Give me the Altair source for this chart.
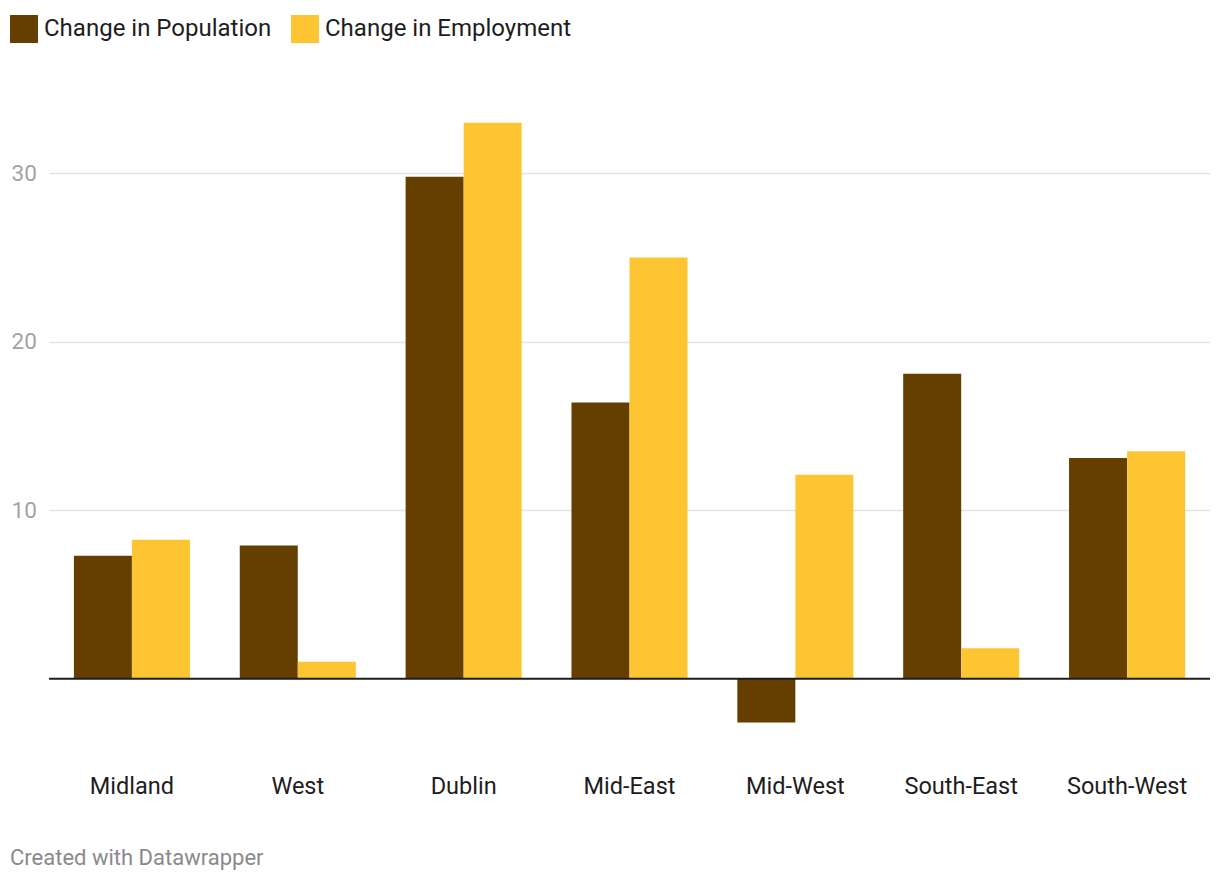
import altair as alt
import pandas as pd

regions = ["Midland", "West", "Dublin", "Mid-East", "Mid-West", "South-East", "South-West"]
population = [7.3, 7.9, 29.8, 16.4, -2.6, 18.1, 13.1]
employment = [8.25, 1.0, 33.0, 25.0, 12.1, 1.8, 13.5]
series = ["Change in Population", "Change in Employment"]
colors = ["#653f00", "#fec533"]
y_ticks = [10, 20, 30]

rows = []
for r, p, e in zip(regions, population, employment):
    rows.append({"region": r, "series": series[0], "value": p})
    rows.append({"region": r, "series": series[1], "value": e})
df = pd.DataFrame(rows)

FONT = "Roboto"
W, H = 1161, 640

bars = alt.Chart(df).mark_bar(size=58).encode(
    x=alt.X("region:N", sort=regions,
            scale=alt.Scale(paddingInner=0.3, paddingOuter=0.15),
            axis=alt.Axis(title=None, labelAngle=0, ticks=False, domain=False,
                          labelFontSize=23.5, labelColor="#1d1d1d", labelFont=FONT,
                          labelPadding=28.5, grid=False)),
    xOffset=alt.XOffset("series:N", sort=series, scale=alt.Scale(paddingInner=0, paddingOuter=0)),
    y=alt.Y("value:Q", scale=alt.Scale(domain=[-4, 34], nice=False, zero=False),
            axis=alt.Axis(title=None, values=y_ticks, ticks=False, domain=False,
                          labelAlign="left", labelPadding=38, labelFontSize=22.5,
                          labelColor="#a3a3a3", labelFont=FONT,
                          gridColor="#e3e3e3", gridWidth=1.5)),
    color=alt.Color("series:N", sort=series,
                    scale=alt.Scale(domain=series, range=colors),
                    legend=alt.Legend(title=None, orient="none", direction="horizontal",
                                      legendX=-39, legendY=-91,
                                      symbolType="M-1,-1H1V1H-1Z", symbolSize=784,
                                      symbolStrokeWidth=0, symbolOpacity=1,
                                      labelFontSize=24, labelFont=FONT, labelColor="#1d1d1d",
                                      labelLimit=0,
                                      labelOffset=6, columnPadding=19, padding=0)),
)

zero = alt.Chart(pd.DataFrame({"v": [0]})).mark_rule(color="#1d1d1d", strokeWidth=2).encode(
    y=alt.Y("v:Q"),
    x=alt.value(0), x2=alt.value(W),
)

footer = alt.Chart(pd.DataFrame({"t": ["Created with Datawrapper"]})).mark_text(
    align="left", baseline="alphabetic", fontSize=22, font=FONT, color="#8a8a8a"
).encode(text="t:N", x=alt.value(-39), y=alt.value(759))

chart = alt.layer(bars, zero, footer).properties(
    width=W, height=H,
    autosize=alt.AutoSizeParams(type="none"),
    padding={"left": 41, "top": 98, "right": 0, "bottom": 130},
).configure(background="white").configure_view(strokeWidth=0, stroke="transparent")

chart.save("out.html", embed_options={"renderer": "svg", "actions": False})
